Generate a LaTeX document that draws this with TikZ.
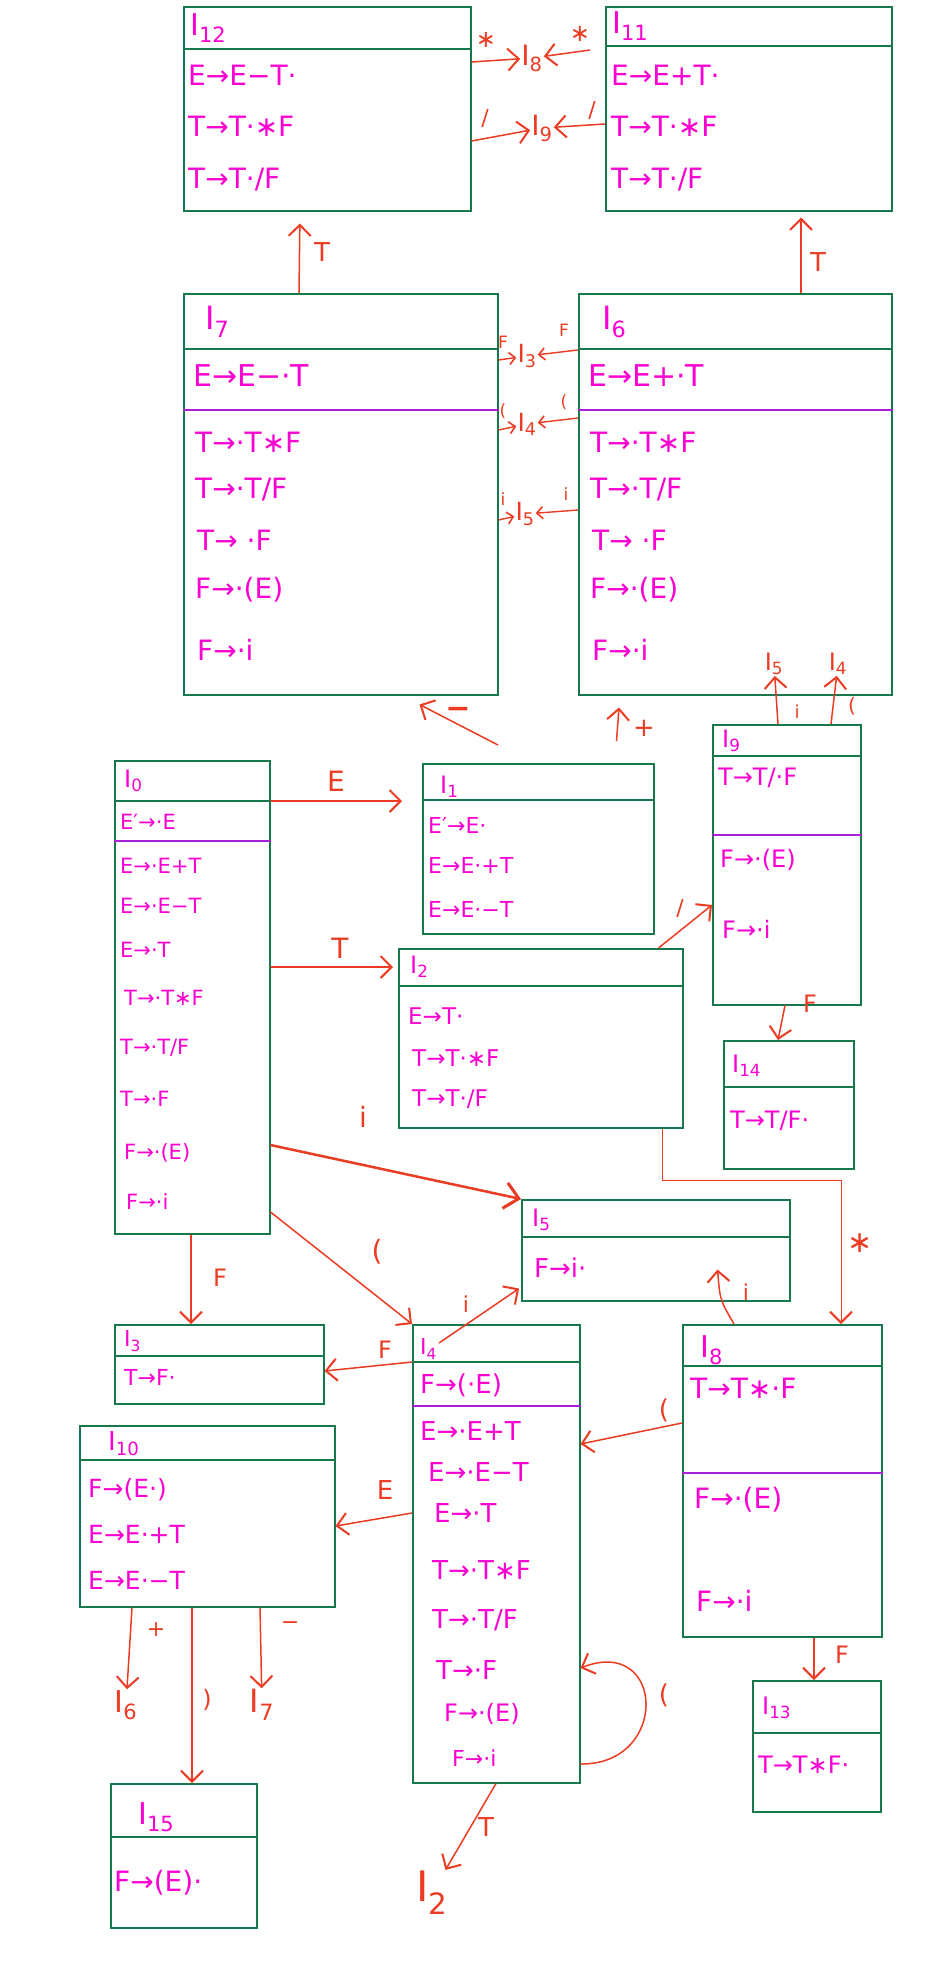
\documentclass[tikz,border=0pt]{standalone}
\usepackage{fontspec}
\setmainfont{DejaVu Sans}
\usetikzlibrary{arrows.meta,calc}
\definecolor{boxgreen}{RGB}{25,120,75}
\definecolor{mag}{RGB}{250,0,210}
\definecolor{sepc}{RGB}{170,30,215}
\definecolor{redarr}{RGB}{235,60,35}
\newcommand{\stbox}[6]{%
  \node[sbox, minimum width={#4-#2}, minimum height={#5-#3}] (#1) at (#2,#3) {};
  \draw[hline] (#1.west |- 0,#6) -- (#1.east |- 0,#6);}
\newcommand{\sepl}[2]{\draw[pline] (#1.west |- 0,#2) -- (#1.east |- 0,#2);}
\begin{document}
\begin{tikzpicture}[x=1pt,y=-1pt,
  sbox/.style={draw=boxgreen, line width=1.5pt, inner sep=0pt, anchor=north west},
  hline/.style={draw=boxgreen, line width=1.5pt},
  pline/.style={draw=sepc, line width=1.3pt},
  itm/.style={text=mag, anchor=west, inner sep=0pt, font=\fontsize{#1}{#1}\selectfont},
  ttl/.style={text=mag, anchor=west, inner sep=0pt, font=\fontsize{#1}{#1}\selectfont},
  lab/.style={text=redarr, inner sep=1pt, font=\fontsize{#1}{#1}\selectfont},
  arr/.style={draw=redarr, line width=1.5pt, -{Straight Barb[length=11pt,width=22pt,line width=2pt]}},
  arrs/.style={draw=redarr, line width=1.4pt, -{Straight Barb[length=6pt,width=12pt,line width=1.6pt]}},
]
\fill[white] (0,0) rectangle (948,1968);
\useasboundingbox (0,0) rectangle (948,1968);

% ---------------- boxes ----------------
\stbox{I12}{183}{6}{470}{210}{49}
\stbox{I11}{605}{6}{891}{210}{46}
\stbox{I7}{183}{293}{497}{694}{349}\sepl{I7}{410}
\stbox{I6}{578}{293}{891}{694}{349}\sepl{I6}{410}
\stbox{I9}{712}{724}{860}{1004}{756}\sepl{I9}{835}
\stbox{I0}{114}{760}{269}{1233}{801}\sepl{I0}{841}
\stbox{I1}{422}{763}{653}{933}{800}
\stbox{I2}{398}{948}{682}{1127}{986}
\stbox{I14}{723}{1040}{853}{1168}{1087}
\stbox{I5}{521}{1199}{789}{1300}{1237}
\stbox{I3}{114}{1324}{323}{1403}{1356}
\stbox{I4}{412}{1324}{579}{1782}{1362}\sepl{I4}{1406}
\stbox{I8}{682}{1324}{881}{1636}{1366}\sepl{I8}{1473}
\stbox{I10}{79}{1425}{334}{1606}{1460}
\stbox{I13}{752}{1680}{880}{1811}{1733}
\stbox{I15}{110}{1783}{256}{1927}{1837}

% ---------------- titles and items ----------------
\node[ttl=30] (t12) at (190,28) {I\textsubscript{12}};
\node[itm=28] (i12a) at (188,75) {E→E−T·};
\node[itm=28] (i12b) at (188,126) {T→T·∗F};
\node[itm=28] (i12c) at (188,180) {T→T·/F};

\node[ttl=30] (t11) at (612,26) {I\textsubscript{11}};
\node[itm=28] (i11a) at (611,75) {E→E+T·};
\node[itm=28] (i11b) at (611,126) {T→T·∗F};
\node[itm=28] (i11c) at (611,180) {T→T·/F};

\node[ttl=32] (t7) at (205,322) {I\textsubscript{7}};
\node[itm=30] (i7a) at (193,376) {E→E−·T};
\node[itm=28] (i7b) at (195,442) {T→·T∗F};
\node[itm=28] (i7c) at (195,490) {T→·T/F};
\node[itm=28] (i7d) at (197,540) {T→ ·F};
\node[itm=28] (i7e) at (195,590) {F→·(E)};
\node[itm=28] (i7f) at (197,650) {F→·i};

\node[ttl=32] (t6) at (602,322) {I\textsubscript{6}};
\node[itm=30] (i6a) at (588,376) {E→E+·T};
\node[itm=28] (i6b) at (590,442) {T→·T∗F};
\node[itm=28] (i6c) at (590,490) {T→·T/F};
\node[itm=28] (i6d) at (592,540) {T→ ·F};
\node[itm=28] (i6e) at (590,590) {F→·(E)};
\node[itm=28] (i6f) at (592,650) {F→·i};

\node[ttl=24] (t9) at (722,741) {I\textsubscript{9}};
\node[itm=24] (i9a) at (718,778) {T→T/·F};
\node[itm=24] (i9b) at (720,860) {F→·(E)};
\node[itm=24] (i9c) at (722,929) {F→·i};

\node[ttl=24] (t0) at (124,781) {I\textsubscript{0}};
\node[itm=21] (i0a) at (120,822) {E′→·E};
\node[itm=21] (i0b) at (120,866) {E→·E+T};
\node[itm=21] (i0c) at (120,906) {E→·E−T};
\node[itm=21] (i0d) at (120,950) {E→·T};
\node[itm=21] (i0e) at (124,998) {T→·T∗F};
\node[itm=21] (i0f) at (120,1048) {T→·T/F};
\node[itm=21] (i0g) at (120,1099) {T→·F};
\node[itm=21] (i0h) at (124,1153) {F→·(E)};
\node[itm=21] (i0i) at (126,1202) {F→·i};

\node[ttl=24] (t1) at (440,787) {I\textsubscript{1}};
\node[itm=22] (i1a) at (428,825) {E′→E·};
\node[itm=22] (i1b) at (428,865) {E→E·+T};
\node[itm=22] (i1c) at (428,909) {E→E·−T};

\node[ttl=24] (t2) at (410,967) {I\textsubscript{2}};
\node[itm=23] (i2a) at (408,1016) {E→T·};
\node[itm=23] (i2b) at (412,1058) {T→T·∗F};
\node[itm=23] (i2c) at (412,1099) {T→T·/F};

\node[ttl=24] (t14) at (732,1066) {I\textsubscript{14}};
\node[itm=24] (i14a) at (730,1121) {T→T/F·};

\node[ttl=24] (t5) at (532,1220) {I\textsubscript{5}};
\node[itm=26] (i5a) at (534,1268) {F→i·};

\node[ttl=22] (t3) at (124,1341) {I\textsubscript{3}};
\node[itm=22] (i3a) at (124,1377) {T→F·};

\node[ttl=22] (t4) at (420,1349) {I\textsubscript{4}};
\node[itm=26] (i4a) at (420,1385) {F→(·E)};
\node[itm=26] (i4b) at (420,1431) {E→·E+T};
\node[itm=26] (i4c) at (428,1472) {E→·E−T};
\node[itm=26] (i4d) at (434,1513) {E→·T};
\node[itm=26] (i4e) at (432,1570) {T→·T∗F};
\node[itm=26] (i4f) at (432,1620) {T→·T/F};
\node[itm=26] (i4g) at (436,1670) {T→·F};
\node[itm=24] (i4h) at (444,1714) {F→·(E)};
\node[itm=22] (i4i) at (452,1758) {F→·i};

\node[ttl=30] (t8) at (700,1350) {I\textsubscript{8}};
\node[itm=28] (i8a) at (690,1388) {T→T∗·F};
\node[itm=28] (i8b) at (694,1500) {F→·(E)};
\node[itm=28] (i8c) at (696,1601) {F→·i};

\node[ttl=26] (t10) at (108,1444) {I\textsubscript{10}};
\node[itm=25] (i10a) at (88,1490) {F→(E·)};
\node[itm=25] (i10b) at (88,1534) {E→E·+T};
\node[itm=25] (i10c) at (88,1580) {E→E·−T};

\node[ttl=24] (t13) at (762,1708) {I\textsubscript{13}};
\node[itm=24] (i13a) at (758,1765) {T→T∗F·};

\node[ttl=30] (t15) at (138,1817) {I\textsubscript{15}};
\node[itm=28] (i15a) at (114,1883) {F→(E)·};

% ---------------- top transitions ----------------
\node[lab=28] (I8t) at (532,58) {I\textsubscript{8}};
\node[lab=28] (I9t) at (542,128) {I\textsubscript{9}};
\draw[arr] (I12.east |- 0,62) -- (I8t);
\node[lab=24] (s1) at (486,40) {∗};
\draw[arr] ($(I11.west |- 0,50)+(-15,0)$) -- (I8t);
\node[lab=24] (s2) at (580,34) {∗};
\draw[arr] (I12.east |- 0,141) -- (I9t);
\node[lab=22] (s3) at (485,118) {/};
\draw[arr] (I11.west |- 0,124) -- (I9t);
\node[lab=22] (s4) at (592,110) {/};

\draw[arr, shorten >=12pt] (I7.north -| 299,0) -- (I12.south -| 300,0);
\node[lab=26] (s5) at (322,252) {T};
\draw[arr, shorten >=6pt] (I6.north -| 801,0) -- (I11.south -| 801,0);
\node[lab=26] (s6) at (818,262) {T};

% ---------------- between I7 and I6 ----------------
\node[lab=25] (I3m) at (527,356) {I\textsubscript{3}};
\node[lab=25] (I4m) at (527,424) {I\textsubscript{4}};
\node[lab=25] (I5m) at (525,514) {I\textsubscript{5}};
\draw[arrs] (I7.east |- 0,360) -- (I3m);
\draw[arrs] (I6.west |- 0,350) -- (I3m);
\node[lab=17] (s7) at (503,342) {F};
\node[lab=17] (s8) at (564,330) {F};
\draw[arrs] (I7.east |- 0,430) -- (I4m);
\draw[arrs] (I6.west |- 0,418) -- (I4m);
\node[lab=17] (s9) at (503,411) {(};
\node[lab=17] (s10) at (564,402) {(};
\draw[arrs] (I7.east |- 0,520) -- (I5m);
\draw[arrs] (I6.west |- 0,510) -- (I5m);
\node[lab=17] (s11) at (503,499) {i};
\node[lab=17] (s12) at (566,494) {i};

% ---------------- I1 to I7 / I6 ----------------
\draw[arr] ($(I1.north west)+(76,-18)$) -- ($(I7.south east)+(-79,9)$);
\node[lab=28, font=\fontsize{30}{30}\bfseries\selectfont] (s13) at (458,713) {−};
\draw[arr] ($(I1.north east)+(-38,-22)$) -- ($(I6.south west)+(41,12)$);
\node[lab=26] (s14) at (644,728) {+};

% ---------------- I9 transitions ----------------
\node[lab=24] (I5t) at (774,664) {I\textsubscript{5}};
\node[lab=24] (I4t) at (838,664) {I\textsubscript{4}};
\draw[arr] (I9.north -| 778,0) -- (I5t);
\node[lab=18] (s15) at (797,712) {i};
\draw[arr] (I9.north -| 831,0) -- (I4t);
\node[lab=20] (s16) at (852,706) {(};
\draw[arr] ($(I2.north east)+(-25,0)$) -- (I9.west |- 0,905);
\node[lab=22] (s17) at (680,908) {/};
\draw[arr] (I9.south -| 785,0) -- (I14.north -| 778,0);
\node[lab=24] (s18) at (810,1004) {F};

% ---------------- I0 transitions ----------------
\draw[arr, shorten >=20pt] (I0.east |- 0,801) -- (I1.west |- 0,801);
\node[lab=28] (s19) at (336,781) {E};
\draw[arr, shorten >=5pt] (I0.east |- 0,967) -- (I2.west |- 0,967);
\node[lab=28] (s20) at (340,948) {T};
\draw[draw=redarr, line width=2.5pt, -{Straight Barb[length=14pt,width=26pt,line width=3pt]}] (I0.east |- 0,1145) -- (I5.north west);
\node[lab=28] (s21) at (363,1117) {i};
\draw[arr] (I0.south -| 191,0) -- (I3.north -| 191,0);
\node[lab=24] (s22) at (220,1278) {F};
\draw[arr] (I0.east |- 0,1212) -- (I4.north west);
\node[lab=28] (s23) at (377,1252) {(};
\draw[arr, line width=1pt] (I2.south -| 662,0) |- (841,1180) -- (I8.north -| 841,0);
\node[lab=30] (s24) at (860,1243) {∗};

% ---------------- I4 transitions ----------------
\draw[arr] (I4.west |- 0,1362) -- (I3.east |- 0,1371);
\node[lab=24] (s25) at (385,1350) {F};
\draw[arr] ($(I4.north west)+(27,19)$) -- ($(I5.south west)+(-2,-13)$);
\node[lab=22] (s26) at (466,1304) {i};
\draw[arr] (I4.west |- 0,1513) -- (I10.east |- 0,1526);
\node[lab=26] (s27) at (385,1490) {E};
\draw[arr] (I4.east |- 0,1764) .. controls (670,1765) and (665,1635) .. (I4.east |- 0,1668);
\node[lab=26] (s28) at (664,1695) {(};
\node[lab=42] (I2b) at (432,1893) {I\textsubscript{2}};
\draw[arr] (I4.south -| 496,0) -- (I2b);
\node[lab=26] (s29) at (486,1827) {T};

% ---------------- I8 transitions ----------------
\draw[arr] (I8.west |- 0,1423) -- (I4.east |- 0,1444);
\node[lab=26] (s30) at (664,1410) {(};
\draw[arr] ($(I8.north west)+(52,0)$) .. controls (720,1300) .. ($(I5.south east)+(-73,-32)$);
\node[lab=22] (s31) at (746,1292) {i};
\draw[arr] (I8.south -| 814,0) -- (I13.north -| 814,0);
\node[lab=24] (s32) at (842,1655) {F};

% ---------------- I10 transitions ----------------
\node[lab=30] (I6b) at (126,1705) {I\textsubscript{6}};
\node[lab=32] (I7b) at (262,1705) {I\textsubscript{7}};
\draw[arr] (I10.south -| 132,0) -- (I6b);
\node[lab=22] (s33) at (156,1630) {+};
\draw[arr] (I10.south -| 260,0) -- (I7b);
\node[lab=22] (s34) at (290,1626) {−};
\draw[arr] (I10.south -| 192,0) -- (I15.north -| 192,0);
\node[lab=24] (s35) at (207,1700) {)};
\end{tikzpicture}
\end{document}
